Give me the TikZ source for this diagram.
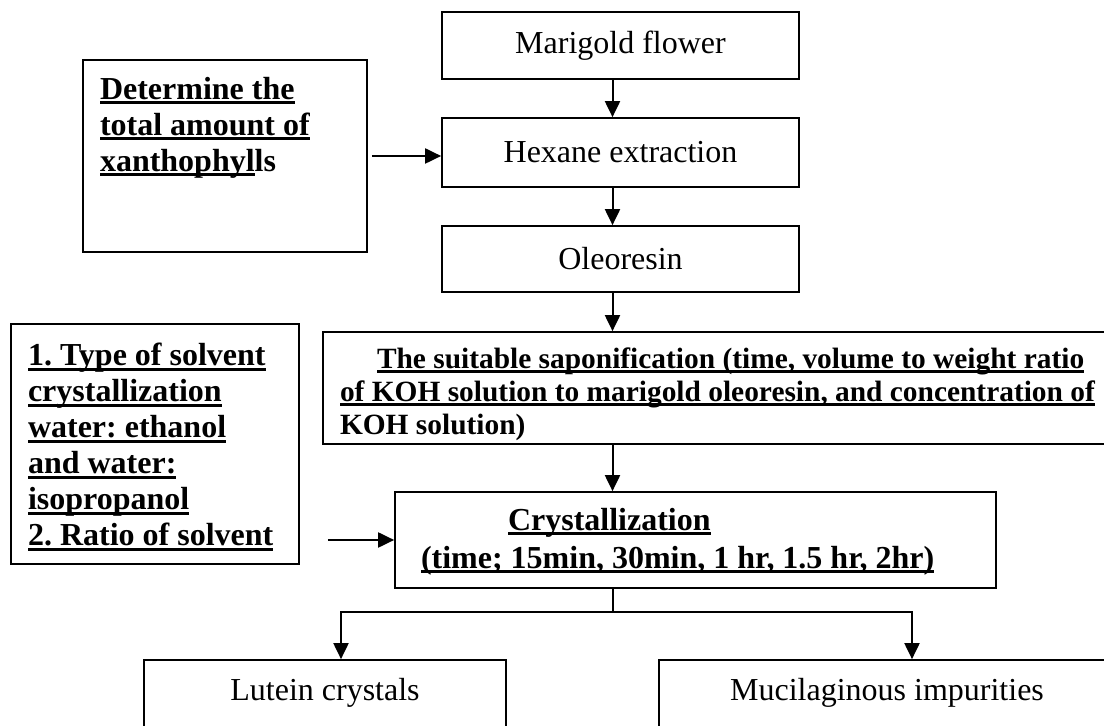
\documentclass[tikz,border=0pt]{standalone}
\usepackage{fontspec}
\setmainfont{Liberation Serif}
\usetikzlibrary{arrows.meta}
\frenchspacing

% underlined text, Word style
\newsavebox\ulbox
\newcommand{\ulword}[1]{\leavevmode\sbox\ulbox{#1}\rlap{\rule[-2.4pt]{\wd\ulbox}{1.5pt}}\usebox\ulbox}
% top aligned text block of fixed size
\newcommand{\topblock}[3]{\parbox[c][#2][t]{#1}{#3}}

\begin{document}
\begin{tikzpicture}[x=0.5pt,y=-0.5pt,
  box/.style={draw=black, line width=0.85pt, inner sep=0pt, font=\fontsize{16pt}{18pt}\selectfont},
  arrow/.style={-{Triangle[length=8pt,width=7.5pt]}, line width=1pt}]
  \clip (0,0) rectangle (1104,726);
  \fill[white] (0,0) rectangle (1104,726);

  % Main column
  \node[box, minimum width=178.5pt, minimum height=33.5pt] (mari) at (620.5,45.5) {Marigold flower};
  \node[box, minimum width=178.5pt, minimum height=34.5pt] (hex) at (620.5,152.5) {Hexane extraction};
  \node[box, minimum width=178.5pt, minimum height=33pt] (oleo) at (620.5,259) {Oleoresin};

  \node[box, inner xsep=8.5pt, inner ysep=7.7pt, font=\fontsize{14.7pt}{16.6pt}\selectfont\bfseries] (sap) at (721.5,388)
    {\topblock{381.5pt}{40.6pt}{\hspace*{18.5pt}\ulword{The suitable saponification (time, volume to weight ratio}\\
     \ulword{of KOH solution to marigold oleoresin, and concentration of}\\
     KOH solution)}};
  \node[box, inner xsep=13pt, inner ysep=8.2pt, font=\fontsize{16pt}{19pt}\selectfont\bfseries] (cryst) at (695.5,540)
    {\topblock{274.5pt}{31.6pt}{\hspace*{43.5pt}\ulword{Crystallization}\\
     \ulword{(time; 15min, 30min, 1 hr, 1.5 hr, 2hr)}}};

  % Side conditions
  \node[box, inner xsep=8.5pt, inner ysep=8.6pt, font=\fontsize{16pt}{18pt}\selectfont\bfseries] (det) at (225,156)
    {\topblock{125pt}{78.8pt}{\ulword{Determine the}\\ \ulword{total amount of}\\ \ulword{xanthophyl}ls}};
  \node[box, inner xsep=8.5pt, inner ysep=9.6pt, font=\fontsize{16pt}{18pt}\selectfont\bfseries] (solv) at (155,444)
    {\topblock{127pt}{100.8pt}{\ulword{1. Type of solvent}\\ \ulword{crystallization}\\ \ulword{water: ethanol}\\
     \ulword{and water:}\\ \ulword{isopropanol}\\ \ulword{2. Ratio of solvent}}};

  % Products
  \node[box, inner xsep=8.5pt, inner ysep=9.2pt] (lutein) at (325,720)
    {\topblock{164pt}{41.6pt}{\centering Lutein crystals}};
  \node[box, inner xsep=8.5pt, inner ysep=9.2pt] (muc) at (887,720)
    {\topblock{211pt}{41.6pt}{\centering Mucilaginous impurities}};

  % Connections
  \coordinate (spine) at (612.5,0);
  \draw[arrow] (mari.south -| spine) -- (hex.north -| spine);
  \draw[arrow] (hex.south -| spine) -- (oleo.north -| spine);
  \draw[arrow] (oleo.south -| spine) -- (sap.north -| spine);
  \draw[arrow] (sap.south -| spine) -- (cryst.north -| spine);
  \draw[arrow, shorten <=2pt] (det.east) -- (det.east -| hex.west);
  \draw[arrow] ([xshift=14pt]solv.east |- cryst.west) -- (cryst.west);

  % Split to products
  \coordinate (split) at (612.5,612);
  \coordinate (lbranch) at (341,612);
  \coordinate (rbranch) at (912,612);
  \draw[line width=1pt] (cryst.south -| spine) -- (split);
  \draw[arrow] (split) -- (lbranch) -- (lbranch |- lutein.north);
  \draw[arrow] (split) -- (rbranch) -- (rbranch |- muc.north);
\end{tikzpicture}
\end{document}
